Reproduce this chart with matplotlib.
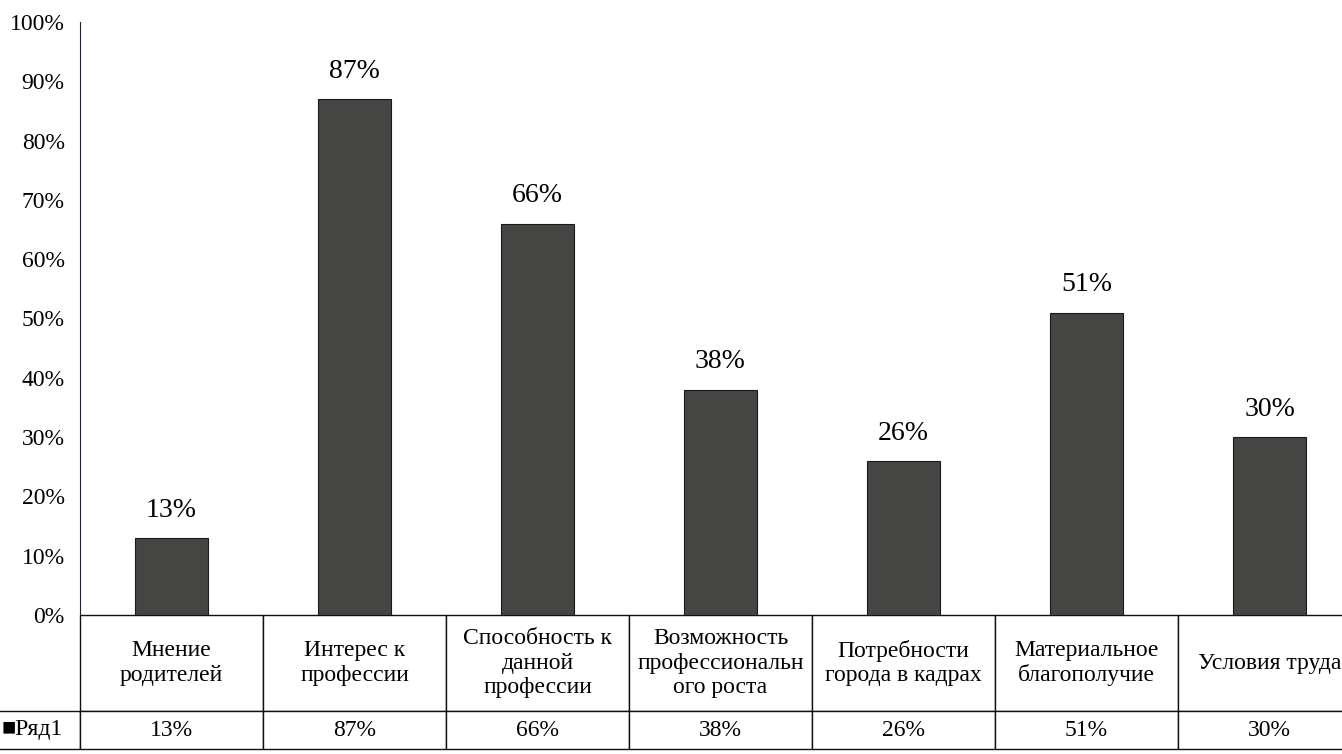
import matplotlib.pyplot as plt
import numpy as np

plt.rcParams['font.family'] = ['Liberation Serif', 'DejaVu Sans']

# data
categories = ["Мнение\nродителей", "Интерес к\nпрофессии", "Способность к\nданной\nпрофессии",
              "Возможность\nпрофессиональн\nого роста", "Потребности\nгорода в кадрах",
              "Материальное\nблагополучие", "Условия труда"]
values = [13, 87, 66, 38, 26, 51, 30]
series_name = "Ряд1"
yticks = [0, 10, 20, 30, 40, 50, 60, 70, 80, 90, 100]

fig = plt.figure(figsize=(13.42, 7.54), dpi=100)
# axes runs a bit past the right edge, like the scan
ax_w, ax_h = 1281, 593
ax = fig.add_axes([80 / 1342, 139 / 754, ax_w / 1342, ax_h / 754])

x = np.arange(len(values))
bars = ax.bar(x, values, width=0.40, color="#454543", edgecolor="#1a1a1a", linewidth=0.8)
ax.bar_label(bars, labels=[f"{v}%" for v in values], padding=11, fontsize=20)

ax.set_xlim(-0.5, len(values) - 0.5)
ax.set_ylim(0, 100)
ax.set_yticks(yticks)
ax.set_yticklabels([f"{t}%" for t in yticks], fontsize=17)
ax.tick_params(axis="y", length=0, pad=11)
ax.set_xticks([])
for s in ["top", "right", "bottom"]:
    ax.spines[s].set_visible(False)
ax.spines["left"].set_color("#222233")

# data table under the plot (bbox covers the data columns only)
hdr_h, row_h = 96, 38
tbl = ax.table(cellText=[[f"{v}%" for v in values]],
               colLabels=categories,
               cellLoc="center",
               bbox=[0, -(hdr_h + row_h) / ax_h, 1, (hdr_h + row_h) / ax_h])
# series label cell, fixed width
tbl.add_cell(1, -1, width=84 / ax_w, height=row_h / ax_h, text="■" + series_name, loc="left")
tbl.auto_set_font_size(False)
tbl.set_fontsize(17)
for (r, c), cell in tbl.get_celld().items():
    cell.set_linewidth(1.0)
    cell.set_edgecolor("#111111")
    cell.set_width((84 if c == -1 else 183) / ax_w)
    cell.set_height((hdr_h if r == 0 else row_h) / ax_h)
    if c == -1:
        cell.PAD = 0.07

plt.savefig("out.png", dpi=100)
